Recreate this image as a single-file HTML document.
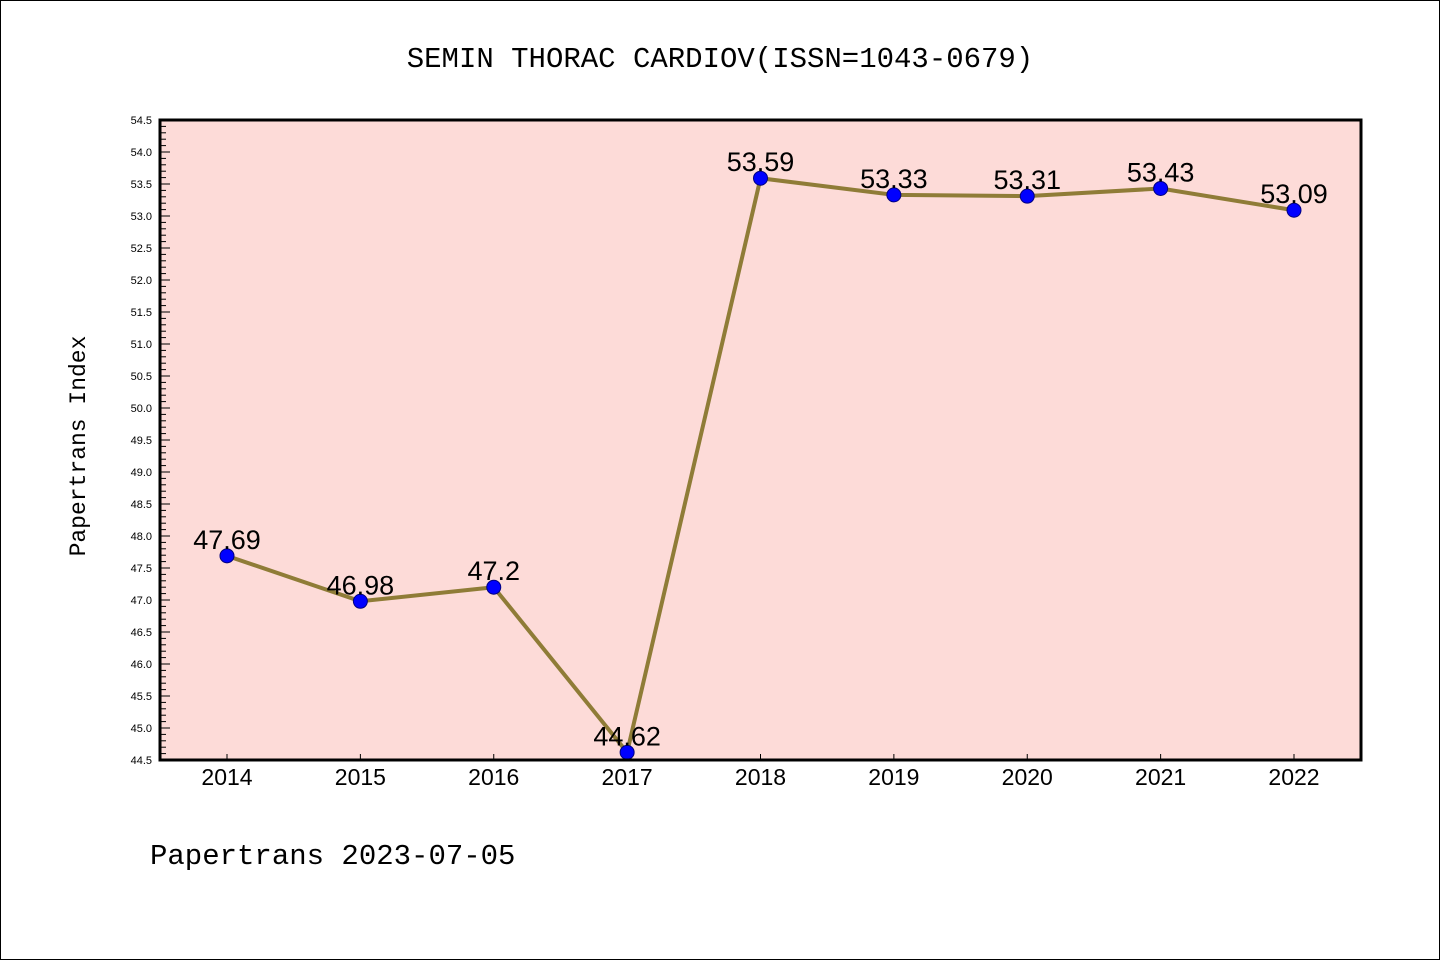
<!DOCTYPE html>
<html><head><meta charset="utf-8"><style>
html,body{margin:0;padding:0;background:#fff;}
svg{display:block;font-family:"Liberation Sans","WenQuanYi Zen Hei",sans-serif;}
</style></head><body>
<svg id="chart" width="1440" height="960" viewBox="0 0 1440 960">
<rect x="0.5" y="0.5" width="1439" height="959" fill="#fff" stroke="#000"/>
<text x="720" y="67" text-anchor="middle" font-size="29" font-family="'WenQuanYi Zen Hei','Liberation Mono',monospace">SEMIN THORAC CARDIOV(ISSN=1043-0679)</text>
<rect x="160" y="120" width="1201" height="640" fill="#fddbd8"/>
<g id="yticks"></g>
<g id="xticks"></g>
<g id="series"></g>
<rect x="160" y="120" width="1201" height="640" fill="none" stroke="#000" stroke-width="3"/>
<text transform="translate(85,446) rotate(-90)" text-anchor="middle" font-size="23" font-family="'WenQuanYi Zen Hei','Liberation Mono',monospace">Papertrans Index</text>
<text x="150" y="864" font-size="29" font-family="'WenQuanYi Zen Hei','Liberation Mono',monospace">Papertrans 2023-07-05</text>
</svg>
<script>
const categories = ["2014","2015","2016","2017","2018","2019","2020","2021","2022"];
const values = [47.69,46.98,47.2,44.62,53.59,53.33,53.31,53.43,53.09];
const labels = ["47.69","46.98","47.2","44.62","53.59","53.33","53.31","53.43","53.09"];
const yMin = 44.5, yMax = 54.5;
const NS = "http://www.w3.org/2000/svg";
const X0 = 160, X1 = 1361, Y0 = 760, Y1 = 120;
function xs(i){ return 227 + i*(1294-227)/(categories.length-1); }
function ys(v){ return Y0 - (v - yMin)/(yMax - yMin)*(Y0 - Y1); }
function mk(tag, attrs, parent){ const e=document.createElementNS(NS,tag); for(const k in attrs) e.setAttribute(k,attrs[k]); parent.appendChild(e); return e; }
const yg = document.getElementById('yticks');
for(let k=0;k<=Math.round((yMax-yMin)*10);k++){
  const v = yMin + k*0.1; const y = ys(v); const major = k%5===0;
  const t = mk('line',{x1:X0,x2:X0+(major?10:6),y1:y,y2:y,stroke:'#000','stroke-width':1},yg);
  
  
  if(major){
    const l = mk('text',{x:152,y:y+4,'text-anchor':'end','font-size':11},yg);
    l.textContent = v.toFixed(1);
    
    
  }
}
const xg = document.getElementById('xticks');
categories.forEach((c,i)=>{
  const x = xs(i);
  const t = mk('line',{x1:x,x2:x,y1:Y0,y2:Y0-6,stroke:'#000','stroke-width':1},xg);
  
  
  const l = mk('text',{x:x,y:785,'text-anchor':'middle','font-size':23},xg);
  l.textContent = c;
  
  
});
const sg = document.getElementById('series');
const pts = values.map((v,i)=>xs(i)+','+ys(v)).join(' ');
const line = mk('polyline',{points:pts,fill:'none',stroke:'#8f7c37','stroke-width':4,'stroke-linejoin':'round'},sg);


values.forEach((v,i)=>{
  const c = mk('circle',{cx:xs(i),cy:ys(v),r:7,fill:'#0000ff',stroke:'#000080','stroke-width':1},sg);
  
  
  const l = mk('text',{x:xs(i),y:ys(v)-7,'text-anchor':'middle','font-size':27},sg);
  l.textContent = labels[i];
  
  
});
</script>
</body></html>
